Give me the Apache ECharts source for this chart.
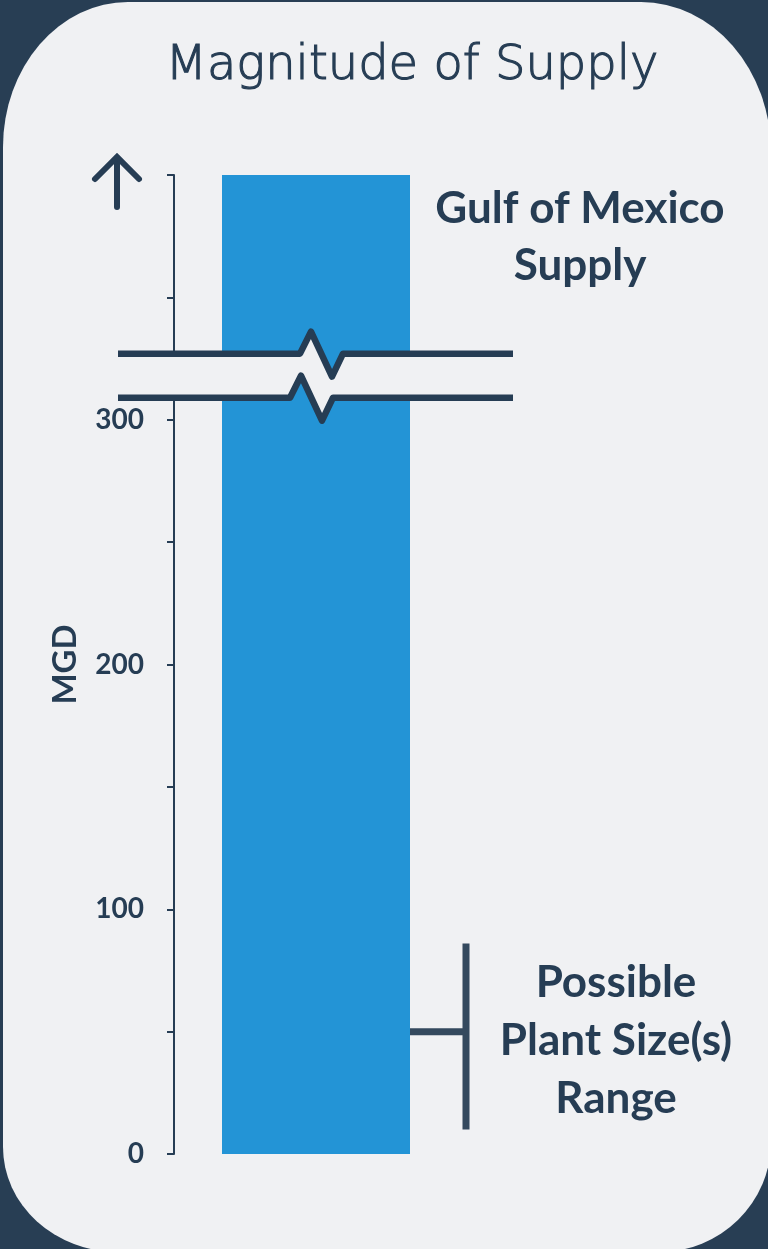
<!DOCTYPE html>
<html>
<head>
<meta charset="utf-8">
<script src="https://cdn.jsdelivr.net/npm/echarts@6/dist/echarts.min.js"></script>
<style>
html, body { margin: 0; padding: 0; background: #283e54; }
.wrap { position: relative; width: 768px; height: 1249px; overflow: hidden; }
.panel {
    position: absolute; left: 3px; top: 2px; width: 768px; height: 1250px;
    background: #f0f1f3;
    border-radius: 125px 130px 112px 115px / 145px 150px 110px 105px;
}
#chart { position: absolute; left: 0; top: 0; width: 768px; height: 1249px; }
</style>
</head>
<body>
<div class="wrap">
    <div class="panel"></div>
    <div id="chart"></div>
</div>
<script>
// data
var categories = ['Gulf of Mexico Supply']
var supply = [400]              // bar runs past the top of the axis
var yTicks = [0, 100, 200, 300] // labelled ticks, minor ticks every 50
var breakBand = [309, 327]      // the two zigzag break lines
var plantRange = [10, 86]       // bracket for possible plant sizes
var plantMid = 50

var ink = '#263d54'
var bracketInk = '#34495e'
var barColor = '#2394d6'
var paper = '#f0f1f3'

var dom = document.getElementById('chart')
var chart = echarts.init(dom, null, { renderer: 'canvas' })

var option = {
    backgroundColor: 'transparent',
    animation: false,
    title: {
        text: 'Magnitude of Supply',
        left: 407,
        textAlign: 'center',
        top: 38,
        textStyle: {
            fontFamily: 'DejaVu Sans',
            fontWeight: 200,
            fontSize: 48,
            color: ink,
            textBorderColor: ink,
            textBorderWidth: 1.1
        }
    },
    grid: {
        left: 174,
        right: 310,
        top: 175,
        bottom: 95,
        containLabel: false
    },
    xAxis: {
        type: 'category',
        data: categories,
        show: false
    },
    yAxis: {
        type: 'value',
        min: 0,
        max: 400,
        interval: 50,
        name: 'MGD',
        nameLocation: 'middle',
        nameGap: 92,
        nameRotate: 90,
        nameTextStyle: {
            fontFamily: 'Lato',
            fontWeight: 'bold',
            fontSize: 33,
            color: ink
        },
        axisLine: { show: true, lineStyle: { color: ink, width: 2 } },
        axisTick: { show: true, length: 7, lineStyle: { color: ink, width: 2 } },
        axisLabel: {
            margin: 30,
            fontFamily: 'Lato',
            fontWeight: 'bold',
            fontSize: 28,
            color: ink,
            formatter: function (v) {
                return yTicks.indexOf(v) >= 0 ? String(v) : ''
            }
        },
        splitLine: { show: false }
    },
    series: [{
        type: 'bar',
        data: supply,
        barWidth: 188,
        itemStyle: { color: barColor }
    }]
}
chart.setOption(option)

// decorations placed through the axes' own scales
var cx = chart.convertToPixel({ xAxisIndex: 0 }, 0)
var yOf = function (v) { return chart.convertToPixel({ yAxisIndex: 0 }, v) }
var barRight = cx + 94
var axisX = 174
var yTop = yOf(400)

var yHi = yOf(breakBand[1])
var yLo = yOf(breakBand[0])
function zig(y, shift) {
    var s = cx + shift
    return [[cx - 198, y], [s - 16, y], [s - 5, y - 22], [s + 16, y + 23], [s + 27, y], [cx + 197, y]]
}
var line1 = zig(yHi, 0)
var line2 = zig(yLo, -10)
var patch = line1.concat(line2.slice().reverse())

var yA = yOf(plantRange[1])
var yB = yOf(plantRange[0])
var yM = yOf(plantMid)
var brX = barRight + 56

chart.setOption({
    graphic: [
        {
            type: 'polygon', z: 100,
            shape: { points: patch },
            style: { fill: paper }
        },
        {
            type: 'polyline', z: 101,
            shape: { points: line1 },
            style: { stroke: ink, lineWidth: 6.5, fill: null, lineJoin: 'round' }
        },
        {
            type: 'polyline', z: 101,
            shape: { points: line2 },
            style: { stroke: ink, lineWidth: 6.5, fill: null, lineJoin: 'round' }
        },
        {
            type: 'polyline', z: 101,
            shape: { points: [[axisX - 57, yTop + 32], [axisX - 57, yTop - 17]] },
            style: { stroke: ink, lineWidth: 6, fill: null, lineCap: 'round' }
        },
        {
            type: 'polyline', z: 101,
            shape: { points: [[axisX - 79, yTop + 4], [axisX - 57, yTop - 18], [axisX - 35, yTop + 4]] },
            style: { stroke: ink, lineWidth: 6, fill: null, lineCap: 'round', lineJoin: 'miter' }
        },
        {
            type: 'line', z: 101,
            shape: { x1: brX, y1: yA, x2: brX, y2: yB },
            style: { stroke: bracketInk, lineWidth: 7 }
        },
        {
            type: 'line', z: 101,
            shape: { x1: barRight, y1: yM, x2: brX, y2: yM },
            style: { stroke: bracketInk, lineWidth: 7 }
        },
        {
            type: 'text', z: 101,
            x: 580, y: 237,
            style: {
                text: 'Gulf of Mexico\nSupply',
                fontFamily: 'Lato', fontWeight: 'bold', fontSize: 44,
                lineHeight: 57,
                fill: ink,
                align: 'center', verticalAlign: 'middle'
            }
        },
        {
            type: 'text', z: 101,
            x: 616, y: yM + 9,
            style: {
                text: 'Possible\nPlant Size(s)\nRange',
                fontFamily: 'Lato', fontWeight: 'bold', fontSize: 44,
                lineHeight: 58,
                fill: ink,
                align: 'center', verticalAlign: 'middle'
            }
        }
    ]
})
</script>
</body>
</html>
